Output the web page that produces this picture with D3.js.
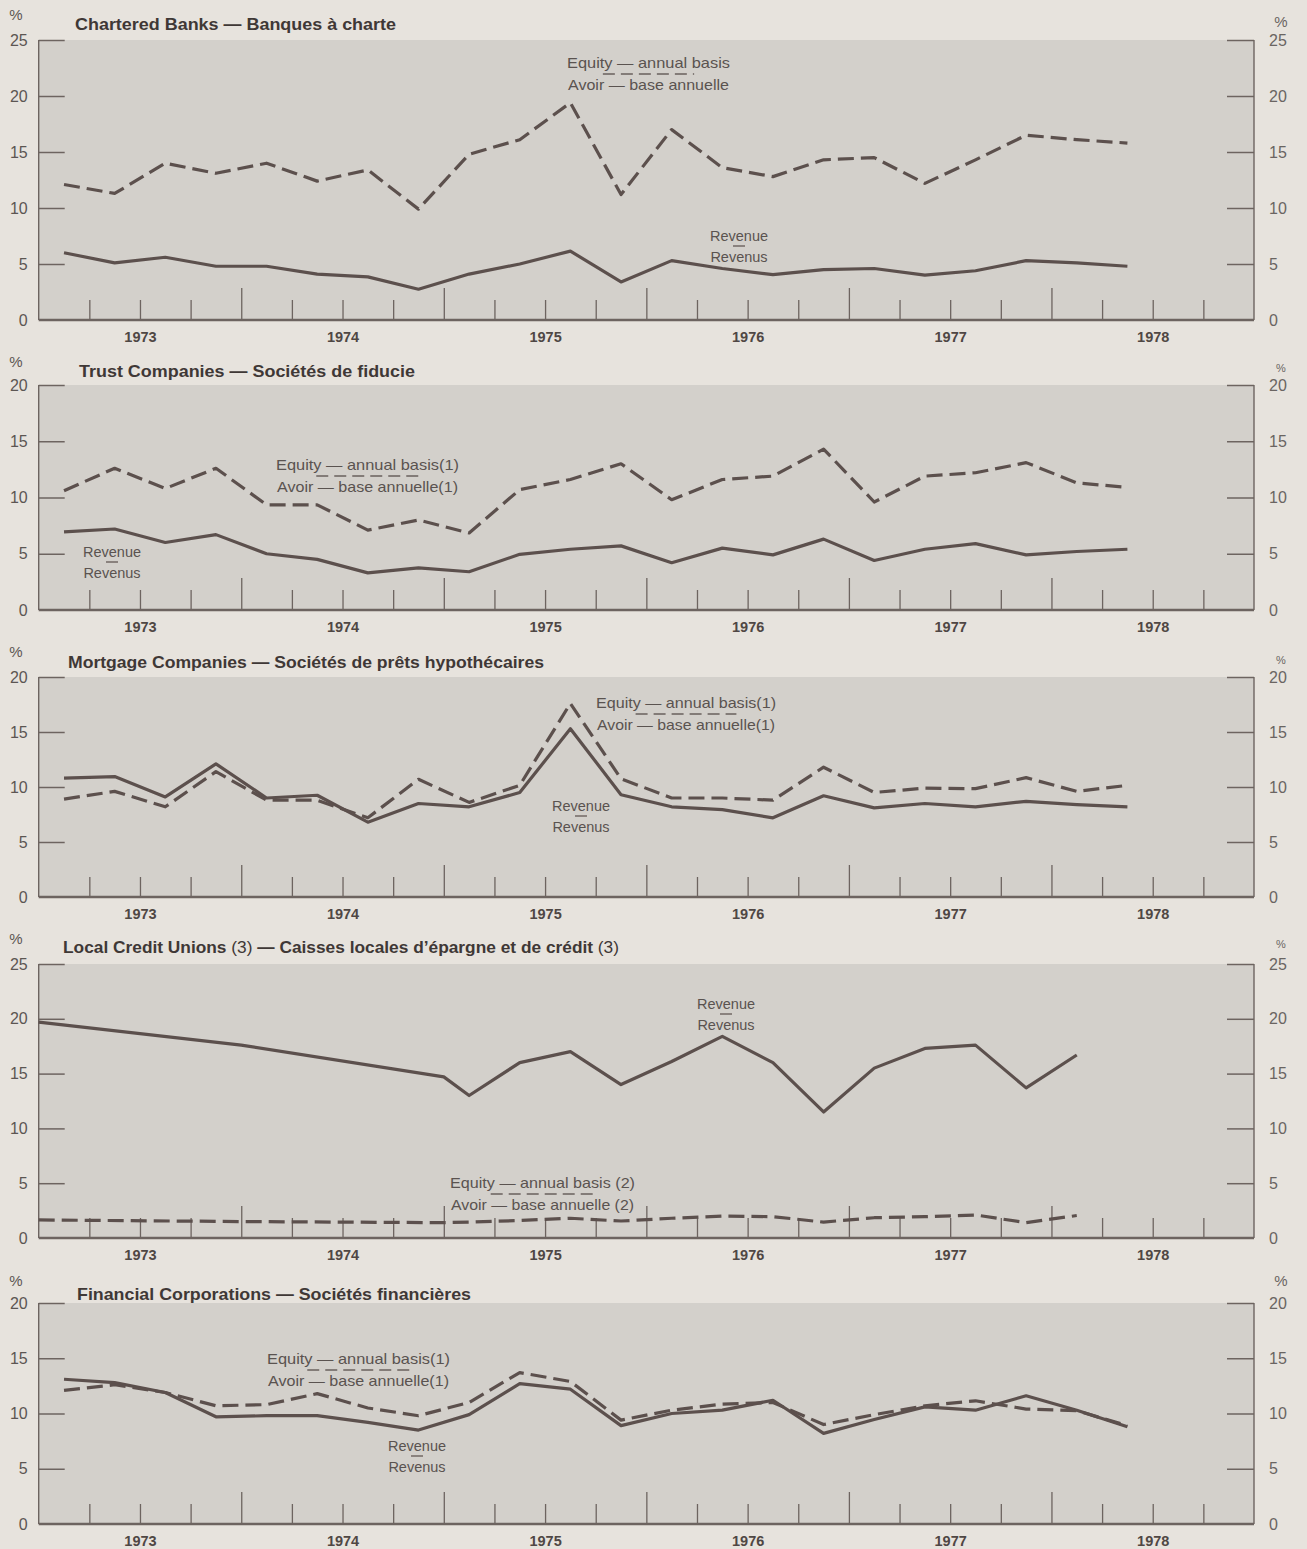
<!DOCTYPE html>
<html>
<head>
<meta charset="utf-8">
<script src="https://cdn.jsdelivr.net/npm/d3@7"></script>
<style>
  html, body { margin: 0; padding: 0; background: #e7e3dd; }
  svg { display: block; }
</style>
</head>
<body>
<svg id="chart" width="1307" height="1549"></svg>
<script>
// ---------------- DATA ----------------
const years = ["1973", "1974", "1975", "1976", "1977", "1978"];

// quarterly periods, 1973 Q1 .. 1978 Q2
const quarterPeriods = [
  "1973Q1","1973Q2","1973Q3","1973Q4",
  "1974Q1","1974Q2","1974Q3","1974Q4",
  "1975Q1","1975Q2","1975Q3","1975Q4",
  "1976Q1","1976Q2","1976Q3","1976Q4",
  "1977Q1","1977Q2","1977Q3","1977Q4",
  "1978Q1","1978Q2"
];
// credit unions: annual points at start of year until 1975, then quarterly to 1978 Q1
const creditPeriods = [
  "1973","1974","1975",
  "1975Q1","1975Q2","1975Q3","1975Q4",
  "1976Q1","1976Q2","1976Q3","1976Q4",
  "1977Q1","1977Q2","1977Q3","1977Q4",
  "1978Q1"
];

const banksEquity  = [12.1, 11.3, 14.0, 13.1, 14.0, 12.4, 13.4, 9.9, 14.8, 16.1, 19.4, 11.2, 17.0, 13.6, 12.8, 14.3, 14.5, 12.2, 14.3, 16.5, 16.1, 15.8];
const banksRevenue = [6.0, 5.1, 5.6, 4.8, 4.8, 4.1, 3.85, 2.75, 4.1, 5.0, 6.15, 3.4, 5.3, 4.6, 4.05, 4.5, 4.6, 4.0, 4.4, 5.3, 5.1, 4.8];

const trustEquity  = [10.6, 12.6, 10.8, 12.6, 9.35, 9.35, 7.1, 8.0, 6.85, 10.7, 11.6, 13.0, 9.8, 11.6, 11.9, 14.3, 9.6, 11.9, 12.2, 13.1, 11.3, 10.9];
const trustRevenue = [6.95, 7.2, 6.0, 6.7, 5.0, 4.5, 3.3, 3.75, 3.4, 4.95, 5.4, 5.7, 4.2, 5.5, 4.9, 6.3, 4.4, 5.4, 5.9, 4.9, 5.2, 5.4];

const mortgageEquity  = [8.9, 9.6, 8.2, 11.4, 8.8, 8.8, 7.2, 10.7, 8.6, 10.15, 17.6, 10.75, 9.0, 9.0, 8.8, 11.8, 9.5, 9.9, 9.85, 10.85, 9.6, 10.15];
const mortgageRevenue = [10.8, 10.95, 9.1, 12.1, 9.0, 9.25, 6.8, 8.5, 8.2, 9.5, 15.3, 9.3, 8.2, 7.95, 7.2, 9.2, 8.1, 8.5, 8.2, 8.7, 8.4, 8.2];

const creditEquity  = [1.65, 1.5, 1.4, 1.45, 1.6, 1.8, 1.55, 1.8, 2.0, 1.95, 1.45, 1.85, 1.95, 2.1, 1.4, 2.05];
const creditRevenue = [19.7, 17.6, 14.7, 13.0, 16.0, 17.0, 14.0, 16.1, 18.4, 16.0, 11.5, 15.5, 17.3, 17.6, 13.7, 16.7];

const financialEquity  = [12.1, 12.6, 11.9, 10.7, 10.8, 11.8, 10.5, 9.8, 11.0, 13.7, 12.9, 9.4, 10.3, 10.85, 11.0, 9.0, 9.9, 10.7, 11.15, 10.4, 10.25, 8.9];
const financialRevenue = [13.1, 12.8, 11.9, 9.7, 9.8, 9.8, 9.2, 8.5, 9.9, 12.7, 12.2, 8.9, 10.0, 10.3, 11.2, 8.2, 9.45, 10.6, 10.3, 11.6, 10.3, 8.8];

const panelTitles = [
  [{t: "Chartered Banks — Banques à charte", b: true}],
  [{t: "Trust Companies — Sociétés de fiducie", b: true}],
  [{t: "Mortgage Companies — Sociétés de prêts hypothécaires", b: true}],
  [{t: "Local Credit Unions ", b: true}, {t: "(3)", b: false}, {t: " — Caisses locales d’épargne et de crédit ", b: true}, {t: "(3)", b: false}],
  [{t: "Financial Corporations — Sociétés financières", b: true}]
];
const equityLabels = [
  ["Equity — annual basis", "Avoir — base annuelle"],
  ["Equity — annual basis(1)", "Avoir — base annuelle(1)"],
  ["Equity — annual basis(1)", "Avoir — base annuelle(1)"],
  ["Equity — annual basis (2)", "Avoir — base annuelle (2)"],
  ["Equity — annual basis(1)", "Avoir — base annuelle(1)"]
];
const revenueLabels = ["Revenue", "Revenus"];

// ---------------- LAYOUT ----------------
const panels = [
  { max: 25, top: 40,  bottom: 320,  per: quarterPeriods, eq: banksEquity, rev: banksRevenue,
    titleX: 75, titleY: 30, titleW: 321, pctL: 20, pctR: 27,
    eqX: 567, eqY: 68, eqW: 163, revX: 739, revY: 241 },
  { max: 20, top: 385, bottom: 610,  per: quarterPeriods, eq: trustEquity, rev: trustRevenue,
    titleX: 79, titleY: 377, titleW: 336, pctL: 367, pctR: 372,
    eqX: 276, eqY: 470, eqW: 183, revX: 112, revY: 557 },
  { max: 20, top: 677, bottom: 897,  per: quarterPeriods, eq: mortgageEquity, rev: mortgageRevenue,
    titleX: 68, titleY: 668, titleW: 476, pctL: 657, pctR: 664,
    eqX: 596, eqY: 708, eqW: 180, revX: 581, revY: 811 },
  { max: 25, top: 964, bottom: 1238, per: creditPeriods, eq: creditEquity, rev: creditRevenue,
    titleX: 63, titleY: 953, titleW: 556, pctL: 944, pctR: 948,
    eqX: 450, eqY: 1188, eqW: 185, revX: 726, revY: 1009 },
  { max: 20, top: 1303, bottom: 1524, per: quarterPeriods, eq: financialEquity, rev: financialRevenue,
    titleX: 77, titleY: 1300, titleW: 394, pctL: 1286, pctR: 1286,
    eqX: 267, eqY: 1364, eqW: 183, revX: 417, revY: 1451 }
];

const X0 = 38.7, X1 = 1254;
const INK = "#5c504d";
const AXIS = "#6d6460";
const LABEL = "#5c5653";

function periodToYear(p) {
  if (p.length === 4) return +p;
  const y = +p.slice(0, 4), q = +p.slice(5);
  return y + (q - 0.5) / 4;
}

const x = d3.scaleLinear().domain([+years[0], +years[years.length - 1] + 1]).range([X0, X1]);

const svg = d3.select("#chart");

const quarterBounds = d3.range(+years[0], +years[years.length - 1] + 1, 0.25)
  .filter(v => v > +years[0] && Math.abs(v - Math.round(v)) > 1e-6);
const yearBounds = years.slice(1).map(Number);
const yearMids = years.map(y => +y + 0.5);

panels.forEach((p, idx) => {
  const y = d3.scaleLinear().domain([0, p.max]).range([p.bottom, p.top]);
  const g = svg.append("g");

  // plot area
  g.append("rect")
    .attr("x", X0).attr("y", y(p.max))
    .attr("width", X1 - X0).attr("height", y(0) - y(p.max))
    .attr("fill", "#d3d0cb");

  const yTicks = d3.range(0, p.max + 0.001, 5);

  // left axis
  const left = g.append("g").attr("transform", `translate(${X0},0)`)
    .call(d3.axisLeft(y).tickValues(yTicks).tickSize(-26).tickPadding(11).tickFormat(d3.format("d")));
  left.select(".domain").remove();
  left.selectAll(".tick line").attr("stroke", AXIS).attr("stroke-width", 1.5)
    .filter(d => d === 0).remove();
  left.selectAll(".tick text").attr("fill", LABEL)
    .style("font-family", "'Liberation Sans', Arial, sans-serif").style("font-size", "16px");

  // right axis
  const right = g.append("g").attr("transform", `translate(${X1},0)`)
    .call(d3.axisRight(y).tickValues(yTicks).tickSize(-27).tickPadding(15).tickFormat(d3.format("d")));
  right.select(".domain").remove();
  right.selectAll(".tick line").attr("stroke", AXIS).attr("stroke-width", 1.5)
    .filter(d => d === 0).remove();
  right.selectAll(".tick text").attr("fill", "#6a6562")
    .style("font-family", "'Liberation Sans', Arial, sans-serif").style("font-size", "16px");

  // vertical axis lines
  g.append("line").attr("x1", X0).attr("x2", X0).attr("y1", y(p.max)).attr("y2", y(0))
    .attr("stroke", AXIS).attr("stroke-width", 1.4);
  g.append("line").attr("x1", X1).attr("x2", X1).attr("y1", y(p.max)).attr("y2", y(0))
    .attr("stroke", AXIS).attr("stroke-width", 1.4);

  // bottom: quarter ticks
  const qAxis = g.append("g").attr("transform", `translate(0,${y(0)})`)
    .call(d3.axisBottom(x).tickValues(quarterBounds).tickSize(-20).tickFormat(""));
  qAxis.select(".domain").remove();
  qAxis.selectAll(".tick line").attr("stroke", AXIS).attr("stroke-width", 1.3);

  const yrAxis = g.append("g").attr("transform", `translate(0,${y(0)})`)
    .call(d3.axisBottom(x).tickValues(yearBounds).tickSize(-32).tickFormat(""));
  yrAxis.select(".domain").remove();
  yrAxis.selectAll(".tick line").attr("stroke", AXIS).attr("stroke-width", 1.3);

  const lblAxis = g.append("g").attr("transform", `translate(0,${y(0)})`)
    .call(d3.axisBottom(x).tickValues(yearMids).tickSize(0).tickPadding(12)
      .tickFormat(d => String(Math.floor(d))));
  lblAxis.select(".domain").remove();
  lblAxis.selectAll(".tick text").attr("fill", "#4f4744")
    .style("font-family", "'Liberation Sans', Arial, sans-serif")
    .style("font-size", "14.5px").style("font-weight", "bold");

  // bottom line
  g.append("line").attr("x1", X0).attr("x2", X1).attr("y1", y(0)).attr("y2", y(0))
    .attr("stroke", AXIS).attr("stroke-width", 2.6);

  // data lines
  const pts = arr => arr.map((v, i) => [periodToYear(p.per[i]), v]);
  const line = d3.line().x(d => x(d[0])).y(d => y(d[1]));

  g.append("path").datum(pts(p.rev)).attr("d", line)
    .attr("fill", "none").attr("stroke", INK).attr("stroke-width", 3.2)
    .attr("stroke-linejoin", "round");
  g.append("path").datum(pts(p.eq)).attr("d", line)
    .attr("fill", "none").attr("stroke", INK).attr("stroke-width", 3.2)
    .attr("stroke-dasharray", "16,7").attr("stroke-linejoin", "round");

  // title
  const tt = g.append("text").attr("x", p.titleX).attr("y", p.titleY)
    .attr("fill", "#3f3836")
    .style("font-family", "'Liberation Sans', Arial, sans-serif").style("font-size", "16.5px")
    .attr("textLength", p.titleW).attr("lengthAdjust", "spacingAndGlyphs");
  panelTitles[idx].forEach(s => {
    tt.append("tspan").text(s.t).style("font-weight", s.b ? "bold" : "normal");
  });

  // percent signs
  g.append("text").attr("x", 16).attr("y", p.pctL).attr("text-anchor", "middle")
    .attr("fill", LABEL).style("font-family", "'Liberation Sans', Arial, sans-serif")
    .style("font-size", "15px").text("%");
  g.append("text").attr("x", 1281).attr("y", p.pctR).attr("text-anchor", "middle")
    .attr("fill", "#6a6562").style("font-family", "'Liberation Sans', Arial, sans-serif")
    .style("font-size", idx === 0 || idx === 4 ? "15px" : "11px").text("%");

  // equity annotation
  const annStyle = sel => sel.attr("fill", "#5a5350")
    .style("font-family", "'Liberation Sans', Arial, sans-serif").style("font-size", "14.5px");
  annStyle(g.append("text").attr("x", p.eqX).attr("y", p.eqY)
    .attr("textLength", p.eqW).attr("lengthAdjust", "spacingAndGlyphs").text(equityLabels[idx][0]));
  annStyle(g.append("text").attr("x", p.eqX + 1).attr("y", p.eqY + 22)
    .attr("textLength", p.eqW - 2).attr("lengthAdjust", "spacingAndGlyphs").text(equityLabels[idx][1]));
  g.append("line")
    .attr("x1", p.eqX + p.eqW * 0.22).attr("x2", p.eqX + p.eqW * 0.78)
    .attr("y1", p.eqY + 6).attr("y2", p.eqY + 6)
    .attr("stroke", "#6a605d").attr("stroke-width", 1.4).attr("stroke-dasharray", "12,6");

  // revenue annotation
  annStyle(g.append("text").attr("x", p.revX).attr("y", p.revY).attr("text-anchor", "middle")
    .text(revenueLabels[0]));
  annStyle(g.append("text").attr("x", p.revX).attr("y", p.revY + 21).attr("text-anchor", "middle")
    .text(revenueLabels[1]));
  g.append("line")
    .attr("x1", p.revX - 6).attr("x2", p.revX + 6)
    .attr("y1", p.revY + 5).attr("y2", p.revY + 5)
    .attr("stroke", "#6a605d").attr("stroke-width", 1.4);
});
</script>
</body>
</html>
